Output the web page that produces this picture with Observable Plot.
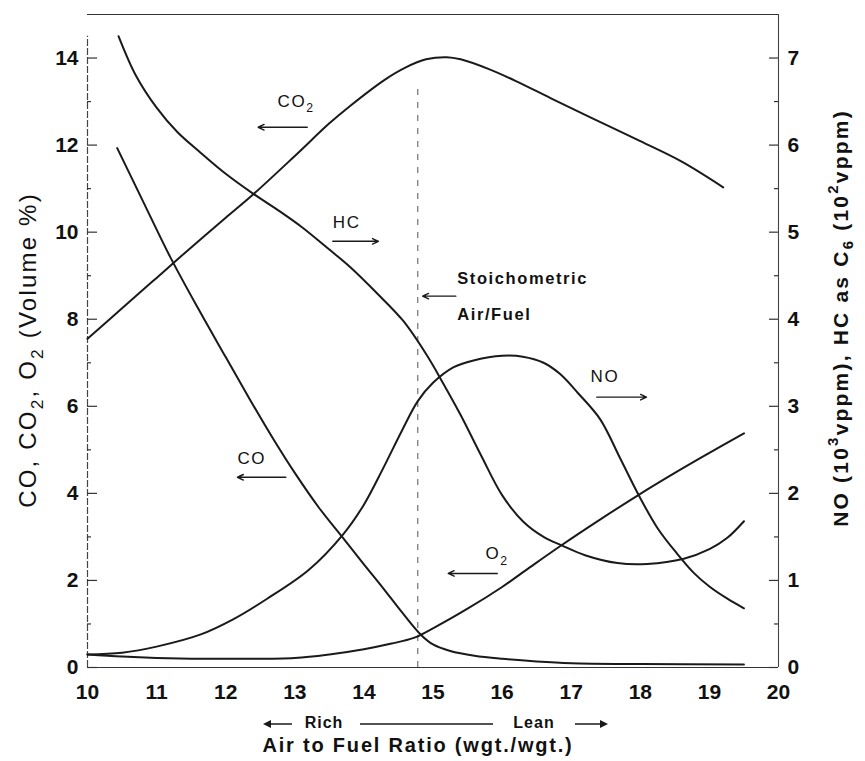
<!DOCTYPE html>
<html><head><meta charset="utf-8">
<script src="https://cdn.jsdelivr.net/npm/d3@7"></script>
<script src="https://cdn.jsdelivr.net/npm/@observablehq/plot@0.6"></script>
<style>
body{margin:0;background:#fff;}
#chart{width:865px;height:761px;}
</style></head><body><div id="chart"></div>
<script>
// ---- data ----
const xTicks = [10,11,12,13,14,15,16,17,18,19,20];
const leftTicks = [0,2,4,6,8,10,12,14];
const rightTicks = [0,1,2,3,4,5,6,7];

// CO2 (Volume %, left axis)
const co2X = [10,10.5,11,11.5,12,12.4,13.0,13.5,13.8,14.3,14.6,14.9,15.2,15.4,15.8,16.2,16.7,17.3,18.0,18.6,19.2];
const co2Y = [7.55,8.25,8.95,9.65,10.33,10.87,11.75,12.5,12.9,13.5,13.78,13.97,14.02,13.97,13.75,13.47,13.08,12.62,12.09,11.62,11.03];
// CO (Volume %, left axis)
const coX = [10.43,10.8,11.2,11.6,12.0,12.36,12.7,13.0,13.35,13.7,14.0,14.28,14.55,14.82,15.0,15.25,15.6,16.0,16.5,17.0,18.0,19.5];
const coY = [11.93,10.72,9.42,8.25,7.13,6.13,5.22,4.47,3.67,2.97,2.37,1.82,1.27,0.76,0.53,0.38,0.27,0.2,0.14,0.1,0.08,0.07];
// O2 (Volume %, left axis)
const o2X = [10,10.5,11,12,13,13.5,14,14.4,14.72,15.0,15.5,16.0,16.4,16.87,17.4,17.96,18.5,19.0,19.5];
const o2Y = [0.3,0.25,0.22,0.2,0.22,0.3,0.42,0.55,0.68,0.9,1.35,1.85,2.3,2.82,3.38,3.95,4.47,4.93,5.38];
// NO (10^3 vppm, right axis)
const noX = [10,10.5,11,11.64,12.1,12.6,13.2,13.7,14.0,14.28,14.55,14.78,15.0,15.3,15.6,16.0,16.3,16.6,16.84,17.1,17.42,17.71,17.97,18.25,18.54,18.77,19.0,19.26,19.5];
const noY = [0.15,0.17,0.24,0.38,0.55,0.79,1.12,1.53,1.87,2.29,2.72,3.06,3.27,3.45,3.53,3.58,3.57,3.5,3.37,3.15,2.85,2.4,1.99,1.6,1.3,1.09,0.93,0.79,0.68];
// HC as C6 (10^2 vppm, right axis)
const hcX = [10.45,10.7,11.0,11.3,11.64,12.0,12.4,12.8,13.1,13.5,13.8,14.2,14.57,14.9,15.15,15.4,15.7,16.0,16.3,16.6,16.87,17.2,17.67,18.1,18.63,19.0,19.26,19.5];
const hcY = [7.25,6.8,6.43,6.15,5.91,5.67,5.44,5.23,5.06,4.8,4.6,4.29,3.98,3.6,3.26,2.9,2.43,1.98,1.68,1.5,1.4,1.29,1.2,1.19,1.25,1.36,1.49,1.68];

const stoichX = 14.78;

// annotations (data coordinates)
const labelText = ["CO_{2}","HC","CO","O_{2}","NO"];
const labelX = [12.75,13.55,12.17,15.76,17.28];
const labelY = [13.01,10.21,4.80,2.62,6.69];
const noteText = ["Stoichometric","Air/Fuel"];
const noteX = [15.35,15.35];
const noteY = [8.92,8.11];
const arrowX1 = [13.18,13.55,12.87,15.93,17.37,15.33];
const arrowX2 = [12.47,14.21,12.17,15.22,18.09,14.85];
const arrowY  = [12.41,9.79,4.37,2.16,6.21,8.53];

const leftTitle = "CO, CO_{2}, O_{2} (Volume %)";
const rightTitle = "NO (10^{3}vppm), HC as C_{6} (10^{2}vppm)";
const xTitle = "Air to Fuel Ratio (wgt./wgt.)";

// ---- build ----
const toRows = (xs, ys, k = 1) => xs.map((x, i) => ({x, y: ys[i] * k}));
const W = 865, H = 761, mL = 87, mR = 87, mT = 14, mB = 94;
const frameW = W - mL - mR;
const ink = "#1a1a1a";
const font = "'Liberation Sans', Arial, Helvetica, sans-serif";

const lineOpts = {x: "x", y: "y", curve: "catmull-rom", stroke: ink, strokeWidth: 2};

const plot = Plot.plot({
  width: W, height: H,
  marginLeft: mL, marginRight: mR, marginTop: mT, marginBottom: mB,
  x: {domain: [10, 20]},
  y: {domain: [0, 15]},
  style: {fontFamily: font, color: "#111", background: "#fff", overflow: "visible"},
  marks: [
    // frame
    Plot.ruleY([15], {stroke: "#333", strokeWidth: 1.2}),
    Plot.ruleY([0], {stroke: "#333", strokeWidth: 1.2}),
    Plot.ruleX([10], {y1: 0, y2: 14.5, stroke: "#444", strokeWidth: 1.2, strokeDasharray: "7,2"}),
    Plot.ruleX([20], {y1: 0, y2: 15, stroke: "#444", strokeWidth: 1.1}),
    // ticks (inward)
    Plot.tickY(leftTicks, {y: d => d, insetRight: frameW - 10, stroke: "#333", strokeWidth: 1.2}),
    Plot.tickY(leftTicks.slice(0, -1).map(d => d + 1), {y: d => d, insetRight: frameW - 4, stroke: "#333", strokeWidth: 1.2}),
    Plot.tickY(rightTicks, {y: d => d * 2, insetLeft: frameW - 9, stroke: "#333", strokeWidth: 1.2}),
    Plot.tickY(rightTicks.slice(0, -1), {y: d => d * 2 + 1, insetLeft: frameW - 4, stroke: "#333", strokeWidth: 1.2}),
    // axes
    Plot.axisX({ticks: xTicks, tickSize: 0, tickPadding: 17, fontSize: 21, fontWeight: "bold", label: null}),
    Plot.axisY({ticks: leftTicks, tickSize: 0, tickPadding: 9, fontSize: 21, fontWeight: "bold", label: null}),
    Plot.axisY({anchor: "right", ticks: rightTicks.map(d => d * 2), tickFormat: d => String(d / 2),
      tickSize: 0, tickPadding: 9, fontSize: 21, fontWeight: "bold", label: null}),
    // stoichiometric line
    Plot.ruleX([stoichX], {y1: 0, y2: 13.4, stroke: "#555", strokeWidth: 1, strokeDasharray: "6,7"}),
    // curves
    Plot.line(toRows(co2X, co2Y), lineOpts),
    Plot.line(toRows(coX, coY), lineOpts),
    Plot.line(toRows(o2X, o2Y), lineOpts),
    Plot.line(toRows(noX, noY, 2), lineOpts),
    Plot.line(toRows(hcX, hcY, 2), lineOpts),
    // annotations
    Plot.text(labelText, {x: (d, i) => labelX[i], y: (d, i) => labelY[i], text: d => d,
      textAnchor: "start", lineAnchor: "middle", fontSize: 17, fill: "#111"}),
    Plot.text(noteText, {x: (d, i) => noteX[i], y: (d, i) => noteY[i], text: d => d,
      textAnchor: "start", lineAnchor: "middle", fontSize: 16.5, fontWeight: "bold", fill: "#111"}),
    Plot.arrow(arrowX1, {x1: d => d, x2: (d, i) => arrowX2[i], y1: (d, i) => arrowY[i], y2: (d, i) => arrowY[i],
      stroke: ink, strokeWidth: 1.4, headLength: 7, headAngle: 50})
  ]
});
document.getElementById("chart").appendChild(plot);

// ---- rich text (sub/superscripts) ----
const svgNS = "http://www.w3.org/2000/svg";
function richText(el, fsOverride) {
  const s = el.textContent;
  if (!/[_^]\{/.test(s)) return;
  const fs = fsOverride || parseFloat(getComputedStyle(el).fontSize) || 16;
  while (el.firstChild) el.removeChild(el.firstChild);
  const re = /([_^])\{([^}]*)\}/g;
  let last = 0, m; const parts = [];
  while ((m = re.exec(s))) {
    if (m.index > last) parts.push({t: s.slice(last, m.index), k: ""});
    parts.push({t: m[2], k: m[1]});
    last = re.lastIndex;
  }
  if (last < s.length) parts.push({t: s.slice(last), k: ""});
  let cur = 0;
  for (const p of parts) {
    const target = p.k === "_" ? fs * 0.34 : p.k === "^" ? -fs * 0.36 : 0;
    const ts = document.createElementNS(svgNS, "tspan");
    ts.textContent = p.t;
    const d = target - cur;
    if (d) ts.setAttribute("dy", d.toFixed(2));
    if (p.k) ts.setAttribute("font-size", (fs * 0.72).toFixed(1));
    cur = target;
    el.appendChild(ts);
  }
}
const svg = d3.select(plot);
svg.selectAll('g[aria-label="text"] text').attr("letter-spacing", "1.6px").each(function() { richText(this); });

// axis titles
function title(txt, x, y, rot, size, weight, ls) {
  const t = svg.append("text")
    .attr("transform", `translate(${x},${y}) rotate(${rot})`)
    .attr("text-anchor", "middle").attr("dominant-baseline", "middle")
    .attr("font-family", font).attr("font-size", size).attr("font-weight", weight)
    .attr("letter-spacing", ls).attr("fill", "#111").text(txt);
  richText(t.node(), size);
  return t;
}
title(leftTitle, 30, 350, -90, 24, "normal", "2.2px");
title(rightTitle, 842, 318, -90, 21, "bold", "2.2px");
title(xTitle, 418, 747, 0, 20, "bold", "1.8px");

// Rich / Lean direction legend
const yR = 724;
const g = svg.append("g").attr("stroke", ink).attr("fill", ink);
g.append("line").attr("x1", 266).attr("x2", 292).attr("y1", yR).attr("y2", yR).attr("stroke-width", 1.5);
g.append("path").attr("d", `M263,${yR} l8,-4 l0,8 z`).attr("stroke", "none");
g.append("line").attr("x1", 360).attr("x2", 493).attr("y1", yR).attr("y2", yR).attr("stroke-width", 1.5);
g.append("line").attr("x1", 575).attr("x2", 604).attr("y1", yR).attr("y2", yR).attr("stroke-width", 1.5);
g.append("path").attr("d", `M608,${yR} l-8,-4 l0,8 z`).attr("stroke", "none");
title("Rich", 324, yR, 0, 16, "bold", "1px");
title("Lean", 534, yR, 0, 16, "bold", "1px");
</script></body></html>
